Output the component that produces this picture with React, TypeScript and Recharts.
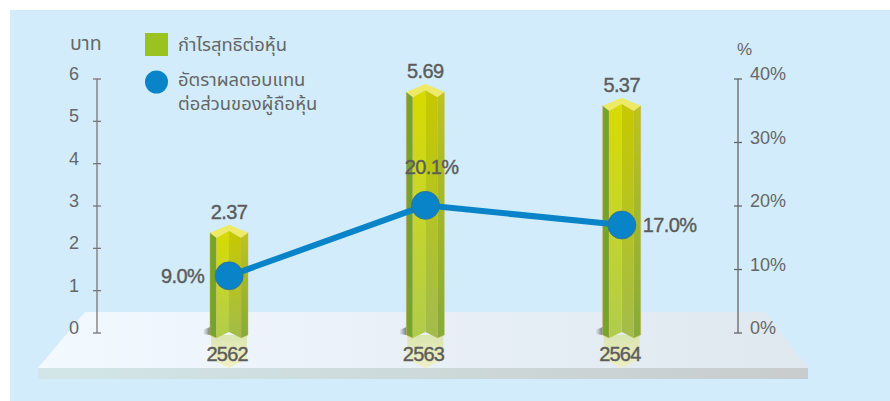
import React from 'react';
import { ComposedChart, Bar, Line, XAxis, YAxis, Legend, Label, LabelList } from 'recharts';

const years = ['2562', '2563', '2564'];
const eps = [2.37, 5.69, 5.37];
const roe = [9.0, 20.1, 17.0];
const leftTicks = [0, 1, 2, 3, 4, 5, 6];
const rightTicks = [0, 10, 20, 30, 40];
const barName = 'กำไรสุทธิต่อหุ้น';
const lineNameA = 'อัตราผลตอบแทน';
const lineNameB = 'ต่อส่วนของผู้ถือหุ้น';

const data = years.map((year, i) => ({ year, eps: eps[i], roe: roe[i] }));

const FONT = '"Liberation Sans", "Noto Sans", "DejaVu Sans", sans-serif';
const THAI = '"Noto Sans Thai", "Noto Sans", "DejaVu Sans", "Liberation Sans", sans-serif';
const TEXT = '#5c5c5c';

const Bar3D = (props: any) => {
  const { x, y, width, height } = props;
  const c = x + width / 2;
  const l = x;
  const r = x + width;
  const il = c - 12.5;
  const ir = c + 12;
  const b = y + height;
  const pts = (a: number[][]) => a.map((p) => p.join(',')).join(' ');
  return (
    <g>
      <polygon points={pts([[l - 7, b - 3], [l, b - 6], [l, b + 2], [l - 7, b + 1]])} fill="url(#shadowGrad)" />
      <polygon points={pts([[l + 1, b + 2], [r - 1, b + 2], [r - 1, b + 26], [c, b + 35], [l + 1, b + 26]])} fill="url(#reflectGrad)" />
      <polygon points={pts([[l, y], [il, y + 5], [il, b + 5], [l, b + 2]])} fill="#74a42a" stroke="#d8a860" strokeWidth={0.5} />
      <polygon points={pts([[il, y + 5], [c, y - 2], [c, b - 1], [il, b + 5]])} fill="url(#frontL)" />
      <polygon points={pts([[c, y - 2], [ir, y + 5], [ir, b + 5], [c, b - 1]])} fill="url(#frontR)" />
      <polygon points={pts([[ir, y + 5], [r, y], [r, b + 2], [ir, b + 5]])} fill="url(#sideR)" stroke="#d8a860" strokeWidth={0.4} />
      <polygon points={pts([[l, y], [c, y - 8], [r, y], [ir, y + 5], [c, y - 2], [il, y + 5]])} fill="#eeea66" />
    </g>
  );
};

const LeftTick = ({ x, y, payload }: any) => (
  <g>
    <line x1={x - 4} x2={x + 4} y1={y} y2={y} stroke="#777" strokeWidth={1.3} />
    <text x={74} y={y - 5} dy={6} textAnchor="middle" fontFamily={FONT} fontSize={18} fill="#666">{payload.value}</text>
  </g>
);

const RightTick = ({ x, y, payload }: any) => (
  <g>
    <line x1={x - 4} x2={x + 4} y1={y} y2={y} stroke="#666" strokeWidth={1.3} />
    <text x={750} y={y - 5} dy={6} textAnchor="start" fontFamily={FONT} fontSize={18} fill="#666">{payload.value}%</text>
  </g>
);

const YearTick = ({ x, payload }: any) => (
  <text x={x - 2} y={361} textAnchor="middle" fontFamily={FONT} fontSize={20} letterSpacing={-0.8} fill={TEXT} stroke={TEXT} strokeWidth={0.4}>{payload.value}</text>
);

const BarValue = ({ x, y, width, value }: any) => (
  <text x={x + width / 2} y={y - 14} textAnchor="middle" fontFamily={FONT} fontSize={20} letterSpacing={-0.6} fill={TEXT} stroke={TEXT} strokeWidth={0.4}>{value.toFixed(2)}</text>
);

const RoeLabel = ({ x, y, value, index }: any) => {
  const pos = [
    { dx: -25, dy: 7, anchor: 'end' },
    { dx: 6, dy: -31, anchor: 'middle' },
    { dx: 21, dy: 7, anchor: 'start' },
  ][index];
  return (
    <text x={x + pos.dx} y={y + pos.dy} textAnchor={pos.anchor as any} fontFamily={FONT} fontSize={20} letterSpacing={-0.6} fill={TEXT} stroke={TEXT} strokeWidth={0.4}>{value.toFixed(1)}%</text>
  );
};

const Dot = ({ cx, cy }: any) => <circle cx={cx} cy={cy} r={14} fill="#0a84c8" stroke="#3a6f8a" strokeWidth={0.8} />;

const LegendBox = () => (
  <svg width={220} height={100} style={{ display: 'block', overflow: 'visible' }}>
    <rect x={0} y={0} width={23} height={23} fill="#9bc31f" />
    <text x={33} y={18} fontFamily={THAI} fontSize={18.4} fill="#666">{barName}</text>
    <circle cx={11.5} cy={49} r={11.5} fill="#0a84c8" />
    <text x={33} y={53} fontFamily={THAI} fontSize={18.4} fill="#666">{lineNameA}</text>
    <text x={33} y={77} fontFamily={THAI} fontSize={18.4} fill="#666">{lineNameB}</text>
  </svg>
);

export default function App() {
  return (
    <div style={{ position: 'absolute', left: 0, top: 0, width: 890, height: 401, overflow: 'hidden', background: '#fff' }}>
      <svg width={890} height={401} style={{ position: 'absolute', left: 0, top: 0 }}>
        <defs>
          <linearGradient id="platTop" x1="0" x2="1" y1="0" y2="0">
            <stop offset="0" stopColor="#f2f9ff" />
            <stop offset="1" stopColor="#dfe8ef" />
          </linearGradient>
          <linearGradient id="platFront" x1="0" x2="1" y1="0" y2="0">
            <stop offset="0" stopColor="#d2e6e8" />
            <stop offset="1" stopColor="#c8cccc" />
          </linearGradient>
        </defs>
        <rect x={10} y={10} width={880} height={391} fill="#d3ecfc" />
        <polygon points="85,312 765,312 808,368 38,368" fill="url(#platTop)" />
        <rect x={38} y={368} width={770} height={11} fill="url(#platFront)" />
      </svg>
      <div style={{ position: 'absolute', left: 0, top: 0 }}>
        <ComposedChart width={890} height={401} data={data} margin={{ top: 79, right: 0, bottom: 0, left: 0 }}>
          <defs>
            <linearGradient id="frontL" x1="0" x2="0" y1="0" y2="1">
              <stop offset="0" stopColor="#d8da00" />
              <stop offset="0.45" stopColor="#c8d628" />
              <stop offset="1" stopColor="#b0cc4c" />
            </linearGradient>
            <linearGradient id="frontR" x1="0" x2="0" y1="0" y2="1">
              <stop offset="0" stopColor="#c8c800" />
              <stop offset="0.45" stopColor="#b6c420" />
              <stop offset="1" stopColor="#a2bc4c" />
            </linearGradient>
            <linearGradient id="sideR" x1="0" x2="0" y1="0" y2="1">
              <stop offset="0" stopColor="#bcc41c" />
              <stop offset="1" stopColor="#84ac38" />
            </linearGradient>
            <linearGradient id="reflectGrad" x1="0" x2="0" y1="0" y2="1">
              <stop offset="0" stopColor="#d8e4a8" stopOpacity={0.9} />
              <stop offset="1" stopColor="#f2eeb0" stopOpacity={0.7} />
            </linearGradient>
            <linearGradient id="shadowGrad" x1="0" x2="1" y1="0" y2="0">
              <stop offset="0" stopColor="#555" stopOpacity={0} />
              <stop offset="1" stopColor="#555" stopOpacity={0.75} />
            </linearGradient>
          </defs>
          <XAxis dataKey="year" axisLine={false} tickLine={false} height={68} padding={{ left: 34, right: 18 }} tick={<YearTick />} interval={0} />
          <YAxis yAxisId="left" orientation="left" width={97} domain={[0, 6]} ticks={leftTicks} interval={0} axisLine={{ stroke: '#777', strokeWidth: 1.3 }} tickLine={false} tickSize={0} tickMargin={0} tick={<LeftTick />}>
            <Label content={() => <text x={70} y={50} fontFamily={THAI} fontSize={19.5} fill="#666">บาท</text>} />
          </YAxis>
          <YAxis yAxisId="right" orientation="right" width={152} domain={[0, 40]} ticks={rightTicks} interval={0} axisLine={{ stroke: '#666', strokeWidth: 1.3 }} tickLine={false} tickSize={0} tickMargin={0} tick={<RightTick />}>
            <Label content={() => <text x={737} y={55} fontFamily={FONT} fontSize={17} fill="#666">%</text>} />
          </YAxis>
          <Legend content={<LegendBox />} layout="vertical" wrapperStyle={{ position: 'absolute', left: 145, top: 33, width: 220, height: 0, bottom: 'auto', overflow: 'visible' }} />
          <Bar yAxisId="left" dataKey="eps" name={barName} barSize={38} shape={<Bar3D />} isAnimationActive={false}>
            <LabelList dataKey="eps" content={<BarValue />} />
          </Bar>
          <Line yAxisId="right" dataKey="roe" name={lineNameA + lineNameB} stroke="#0a84c8" strokeWidth={6} dot={<Dot />} activeDot={false} isAnimationActive={false}>
            <LabelList dataKey="roe" content={<RoeLabel />} />
          </Line>
        </ComposedChart>
      </div>
    </div>
  );
}
